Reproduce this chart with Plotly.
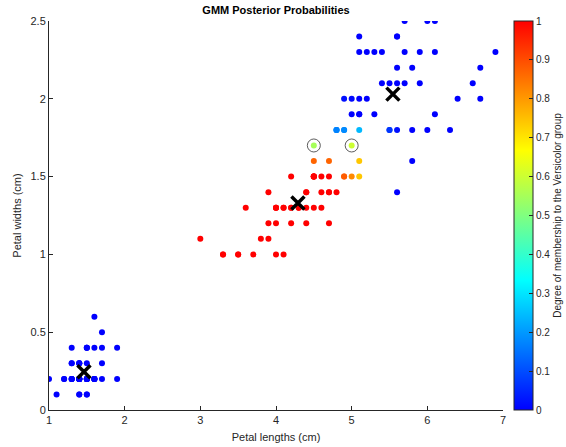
import plotly.graph_objects as go

# Iris petal measurements (cm), in dataset order: setosa, versicolor, virginica
petal_length = [
    1.4, 1.4, 1.3, 1.5, 1.4, 1.7, 1.4, 1.5, 1.4, 1.5, 1.5, 1.6, 1.4, 1.1, 1.2, 1.5, 1.3, 1.4, 1.7, 1.5,
    1.7, 1.5, 1.0, 1.7, 1.9, 1.6, 1.6, 1.5, 1.4, 1.6, 1.6, 1.5, 1.5, 1.4, 1.5, 1.2, 1.3, 1.4, 1.3, 1.5,
    1.3, 1.3, 1.3, 1.6, 1.9, 1.4, 1.6, 1.4, 1.5, 1.4,
    4.7, 4.5, 4.9, 4.0, 4.6, 4.5, 4.7, 3.3, 4.6, 3.9, 3.5, 4.2, 4.0, 4.7, 3.6, 4.4, 4.5, 4.1, 4.5, 3.9,
    4.8, 4.0, 4.9, 4.7, 4.3, 4.4, 4.8, 5.0, 4.5, 3.5, 3.8, 3.7, 3.9, 5.1, 4.5, 4.5, 4.7, 4.4, 4.1, 4.0,
    4.4, 4.6, 4.0, 3.3, 4.2, 4.2, 4.2, 4.3, 3.0, 4.1,
    6.0, 5.1, 5.9, 5.6, 5.8, 6.6, 4.5, 6.3, 5.8, 6.1, 5.1, 5.3, 5.5, 5.0, 5.1, 5.3, 5.5, 6.7, 6.9, 5.0,
    5.7, 4.9, 6.7, 4.9, 5.7, 6.0, 4.8, 4.9, 5.6, 5.8, 6.1, 6.4, 5.6, 5.1, 5.6, 6.1, 5.6, 5.5, 4.8, 5.4,
    5.6, 5.1, 5.1, 5.9, 5.7, 5.2, 5.0, 5.2, 5.4, 5.1,
]
petal_width = [
    0.2, 0.2, 0.2, 0.2, 0.2, 0.4, 0.3, 0.2, 0.2, 0.1, 0.2, 0.2, 0.1, 0.1, 0.2, 0.4, 0.4, 0.3, 0.3, 0.3,
    0.2, 0.4, 0.2, 0.5, 0.2, 0.2, 0.4, 0.2, 0.2, 0.2, 0.2, 0.4, 0.1, 0.2, 0.2, 0.2, 0.2, 0.1, 0.2, 0.2,
    0.3, 0.3, 0.2, 0.6, 0.4, 0.3, 0.2, 0.2, 0.2, 0.2,
    1.4, 1.5, 1.5, 1.3, 1.5, 1.3, 1.6, 1.0, 1.3, 1.4, 1.0, 1.5, 1.0, 1.4, 1.3, 1.4, 1.5, 1.0, 1.5, 1.1,
    1.8, 1.3, 1.5, 1.2, 1.3, 1.4, 1.4, 1.7, 1.5, 1.0, 1.1, 1.0, 1.2, 1.6, 1.5, 1.6, 1.5, 1.3, 1.3, 1.3,
    1.2, 1.4, 1.2, 1.0, 1.3, 1.2, 1.3, 1.3, 1.1, 1.3,
    2.5, 1.9, 2.1, 1.8, 2.2, 2.1, 1.7, 1.8, 1.8, 2.5, 2.0, 1.9, 2.1, 2.0, 2.4, 2.3, 1.8, 2.2, 2.3, 1.5,
    2.3, 2.0, 2.0, 1.8, 2.1, 1.8, 1.8, 1.8, 2.1, 1.6, 1.9, 2.0, 2.2, 1.5, 1.4, 2.3, 2.4, 1.8, 1.8, 2.1,
    2.4, 2.3, 1.9, 2.3, 2.5, 2.3, 1.9, 2.0, 2.3, 1.8,
]

# Posterior probability of membership in the Versicolor component
posterior = (
    [0.0] * 50
    + [1.0, 1.0, 0.88, 1.0, 1.0, 1.0, 0.87, 1.0, 1.0, 1.0,
       1.0, 1.0, 1.0, 1.0, 1.0, 1.0, 1.0, 1.0, 1.0, 1.0,
       0.2, 1.0, 0.88, 1.0, 1.0, 1.0, 1.0, 0.6, 1.0, 1.0,
       1.0, 1.0, 1.0, 0.74, 1.0, 0.87, 1.0, 1.0, 1.0, 1.0,
       1.0, 1.0, 1.0, 1.0, 1.0, 1.0, 1.0, 1.0, 1.0, 1.0]
    + [0.0, 0.0, 0.0, 0.02, 0.0, 0.0, 0.55, 0.0, 0.0, 0.0,
       0.0, 0.0, 0.0, 0.01, 0.0, 0.0, 0.07, 0.0, 0.0, 0.82,
       0.0, 0.02, 0.0, 0.18, 0.0, 0.0, 0.17, 0.18, 0.0, 0.0,
       0.0, 0.0, 0.0, 0.74, 0.0, 0.0, 0.0, 0.07, 0.17, 0.0,
       0.0, 0.0, 0.0, 0.0, 0.0, 0.0, 0.0, 0.0, 0.0, 0.24]
)

# Fitted component means (petal length, petal width)
centroid_length = [1.462, 4.29, 5.545]
centroid_width = [0.246, 1.33, 2.03]

# Observations flagged as ambiguous (posterior near 0.5)
flag_length = [4.5, 5.0]
flag_width = [1.7, 1.7]

jet_like = [
    [0.0, "rgb(0,0,255)"],
    [0.333, "rgb(0,255,255)"],
    [0.5, "rgb(128,255,128)"],
    [0.667, "rgb(255,255,0)"],
    [1.0, "rgb(255,0,0)"],
]

font_family = "Liberation Sans, Arial, sans-serif"
axis_color = "#262626"

fig = go.Figure()

fig.add_trace(go.Scatter(
    x=petal_length, y=petal_width, mode="markers",
    marker=dict(
        size=6, color=posterior, colorscale=jet_like, cmin=0, cmax=1,
        line=dict(width=0),
        showscale=True,
        colorbar=dict(
            x=1.024, xanchor="left", y=0.5, yanchor="middle",
            len=1, lenmode="fraction", thickness=19, xpad=0, ypad=0,
            outlinewidth=1, outlinecolor=axis_color,
            tickmode="array",
            tickvals=[i / 10 for i in range(11)],
            ticktext=["0", "0.1", "0.2", "0.3", "0.4", "0.5", "0.6", "0.7", "0.8", "0.9", "1"],
            ticks="inside", ticklen=4, tickcolor=axis_color,
            tickfont=dict(family=font_family, size=10, color=axis_color),
            title=dict(text="Degree of membership to the Versicolor group", side="right",
                       font=dict(family=font_family, size=10, color=axis_color)),
        ),
    ),
    showlegend=False, hoverinfo="x+y",
))

fig.add_trace(go.Scatter(
    x=flag_length, y=flag_width, mode="markers",
    marker=dict(symbol="circle-open", size=13, color="#333333", line=dict(width=0.8)),
    showlegend=False,
))

fig.add_trace(go.Scatter(
    x=centroid_length, y=centroid_width, mode="markers",
    marker=dict(symbol="x-thin-open", size=13, color="black", line=dict(width=3.5, color="black")),
    showlegend=False,
))

fig.update_layout(
    width=566, height=447,
    margin=dict(l=49, r=63, t=21, b=37, autoexpand=False),
    paper_bgcolor="white", plot_bgcolor="white",
    font=dict(family=font_family, size=11, color=axis_color),
    title=dict(text="<b>GMM Posterior Probabilities</b>", x=(49 + 503) / 2 / 566, xanchor="center",
               y=1 - 10 / 447, yanchor="middle",
               font=dict(family=font_family, size=11, color="black")),
)

fig.update_xaxes(
    range=[1, 7], tickvals=[1, 2, 3, 4, 5, 6, 7], ticktext=["1", "2", "3", "4", "5", "6", "7"],
    ticks="inside", ticklen=4, tickcolor=axis_color,
    showline=True, linecolor=axis_color, linewidth=1, mirror=False,
    showgrid=False, zeroline=False,
    tickfont=dict(family=font_family, size=11, color=axis_color),
    title=dict(text="Petal lengths (cm)", standoff=8, font=dict(family=font_family, size=11, color=axis_color)),
)
fig.update_yaxes(
    range=[0, 2.5], tickvals=[0, 0.5, 1, 1.5, 2, 2.5], ticktext=["0", "0.5", "1", "1.5", "2", "2.5"],
    ticks="inside", ticklen=4, tickcolor=axis_color,
    showline=True, linecolor=axis_color, linewidth=1, mirror=False,
    showgrid=False, zeroline=False,
    tickfont=dict(family=font_family, size=11, color=axis_color),
    title=dict(text="Petal widths (cm)", standoff=6, font=dict(family=font_family, size=11, color=axis_color)),
)

fig.write_html("out.html")
